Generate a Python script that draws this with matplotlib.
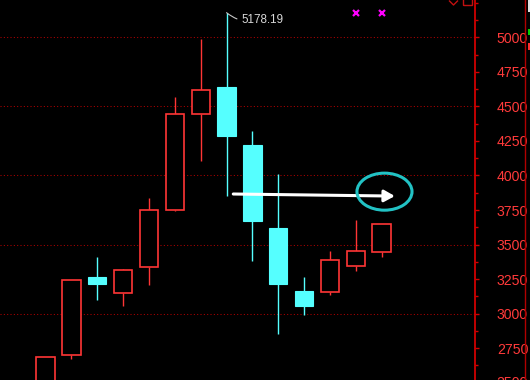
import matplotlib
matplotlib.use("Agg")
import matplotlib.pyplot as plt
from matplotlib.patches import Rectangle, Ellipse
from matplotlib.ticker import MultipleLocator, FixedLocator, FixedFormatter

# OHLC series (oldest first)
opens  = [2450, 2699, 3265, 3152, 3336, 3748, 4443, 4640,    4221, 3620, 3164, 3159, 3343, 3444]
highs  = [2684, 3245, 3410, 3323, 3837, 4568, 4985, 5178.19, 4322, 4011, 3265, 3454, 3680, 3647]
lows   = [2400, 2674, 3099, 3058, 3210, 3745, 4107, 3854,    3383, 2855, 2993, 3138, 3311, 3408]
closes = [2684, 3242, 3217, 3314, 3748, 4443, 4619, 4288,    3673, 3217, 3058, 3386, 3451, 3647]

price_ticks = [2500, 2750, 3000, 3250, 3500, 3750, 4000, 4250, 4500, 4750, 5000]
tick_labels = ["2500", "2750", "3000", "3250", "3500", "3750", "4000", "4250", "4500", "4750", "5000"]
grid_levels = [3000, 3500, 4000, 4500, 5000]

peak_label = "5178.19"
marker_bars = [12, 13]
arrow_from = (7.26, 3866)
arrow_to = (13.51, 3851)
circle_center = (13.11, 3883)

UP = "#ff3535"
DOWN = "#55ffff"
AXIS_RED = "#d00000"
GRID_RED = "#b00000"
LABEL_RED = "#ff3a3a"
NARROW = ["Liberation Sans Narrow", "Liberation Sans", "DejaVu Sans"]

W, H = 530, 380
fig = plt.figure(figsize=(W / 100, H / 100), dpi=100, facecolor="black")
ax = fig.add_axes([0, 0, 474.7 / W, 1])
ax.set_facecolor("black")

ax.set_xlim(-1.764, 16.6)
ax.set_ylim(2520, 5270)

# dotted price grid, running a few pixels past the price axis
for lvl in grid_levels:
    ax.plot([0, 1.011], [lvl, lvl], transform=ax.get_yaxis_transform(),
            color=GRID_RED, lw=0.75, linestyle=(0, (1, 2.2)), zorder=1, clip_on=False)

body_w = 0.708
for i, (o, h, l, c) in enumerate(zip(opens, highs, lows, closes)):
    lo_b, hi_b = min(o, c), max(o, c)
    if c >= o:
        ax.plot([i, i], [hi_b, h], color=UP, lw=1.0, zorder=2, solid_capstyle="butt")
        ax.plot([i, i], [l, lo_b], color=UP, lw=1.0, zorder=2, solid_capstyle="butt")
        ax.add_patch(Rectangle((i - body_w / 2, lo_b), body_w, hi_b - lo_b,
                               facecolor="black", edgecolor=UP, lw=1.2, zorder=3))
    else:
        ax.plot([i, i], [l, h], color=DOWN, lw=1.0, zorder=2, solid_capstyle="butt")
        ax.add_patch(Rectangle((i - body_w / 2, lo_b), body_w, hi_b - lo_b,
                               facecolor=DOWN, edgecolor=DOWN, lw=0.8, zorder=3))

# peak label with leader
pk = highs.index(max(highs))
ax.annotate(peak_label, xy=(pk, highs[pk]), xytext=(14.5, -7.5),
            textcoords="offset pixels", ha="left", va="center",
            color="#d8d8d8", fontsize=8.4, family=["Liberation Sans", "DejaVu Sans"],
            arrowprops=dict(arrowstyle="-", color="#c8c8c8", lw=0.8,
                            shrinkA=1, shrinkB=0,
                            connectionstyle="arc3,rad=-0.25"),
            zorder=6)

# trend arrow and highlight ring
ax.annotate("", xy=arrow_to, xytext=arrow_from,
            arrowprops=dict(arrowstyle="-|>,head_length=0.45,head_width=0.25",
                            mutation_scale=14, color="white", lw=2.2,
                            shrinkA=0, shrinkB=0),
            zorder=7)
ax.add_patch(Ellipse(circle_center, 2.13, 268, facecolor="none",
                     edgecolor="#22c2c4", lw=2.2, zorder=8))

# event markers along the top
ax.plot(marker_bars, [0.967] * len(marker_bars), linestyle="none", marker="x",
        color="#ff00ff", markersize=4, mew=1.6,
        transform=ax.get_xaxis_transform(), zorder=6, clip_on=False)

# price axis on the right
for s in ["left", "top", "bottom"]:
    ax.spines[s].set_visible(False)
ax.spines["right"].set_color(AXIS_RED)
ax.spines["right"].set_linewidth(1.3)
ax.set_xticks([])
ax.yaxis.tick_right()
ax.yaxis.set_major_locator(FixedLocator(price_ticks))
ax.yaxis.set_major_formatter(FixedFormatter(tick_labels))
ax.yaxis.set_minor_locator(MultipleLocator(125))
ax.tick_params(axis="y", which="major", colors=AXIS_RED, length=3, width=1,
               pad=13, labelcolor=LABEL_RED, labelsize=10.2)
ax.tick_params(axis="y", which="minor", colors=AXIS_RED, length=2, width=1)
for t in ax.get_yticklabels():
    t.set_family(NARROW)

# lowest level label sits just past the bottom edge
low_v = price_ticks[0]
ax.text(1 + 21.3 / 474.7, low_v, tick_labels[0], transform=ax.get_yaxis_transform(),
        ha="left", va="center", color=LABEL_RED, fontsize=10.2, family=NARROW,
        clip_on=False)

# toolbar glyphs and right-hand edge strip
fig.add_artist(plt.Line2D([449.5 / W, 453.5 / W, 457.5 / W], [1 - 1 / H, 1 - 5 / H, 1 - 1 / H],
                          color="#c01010", lw=1.0))
fig.add_artist(Rectangle((462.5 / W, 1 - 4.5 / H), 9 / W, 6 / H, facecolor="none",
                         edgecolor="#c01010", lw=1.0))
fig.add_artist(plt.Line2D([524.5 / W, 524.5 / W], [0, 1], color="#b00000", lw=1.0))
fig.add_artist(Rectangle((527.5 / W, 1 - 12 / H), 3 / W, 12 / H, facecolor="#e0e0e0", edgecolor="none"))
fig.add_artist(Rectangle((527.5 / W, 1 - 35 / H), 3 / W, 6 / H, facecolor="#00d000", edgecolor="none"))
fig.add_artist(Rectangle((527.5 / W, 1 - 49.5 / H), 3 / W, 6 / H, facecolor="#ff3030", edgecolor="none"))

fig.savefig("out.png", dpi=100, facecolor="black")
